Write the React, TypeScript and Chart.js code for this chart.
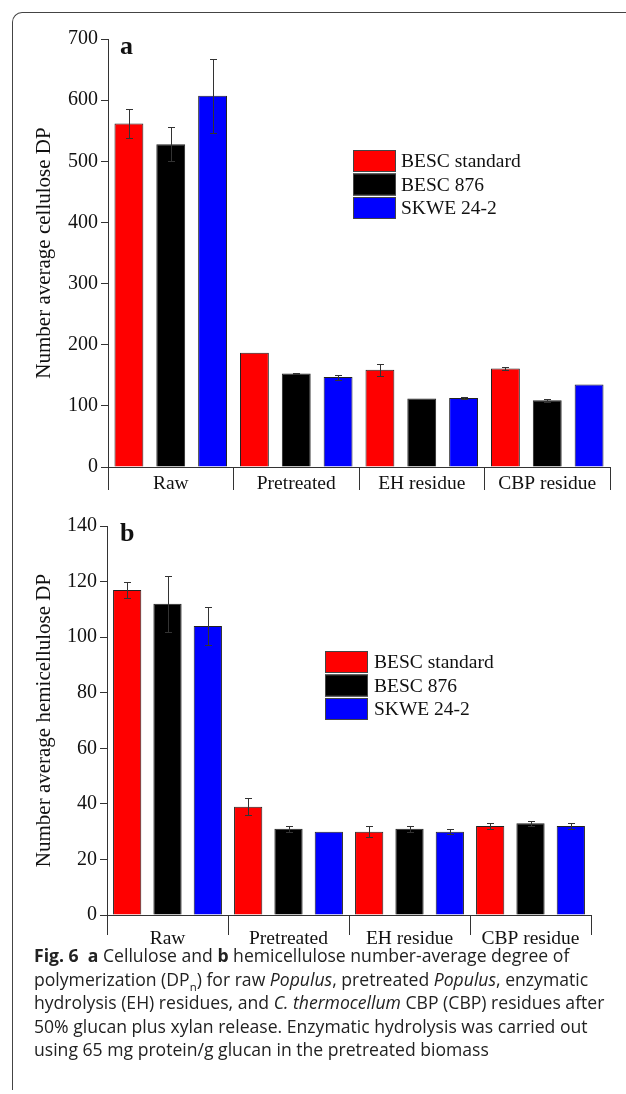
import React, { useEffect, useRef } from "react";
import { Chart, registerables } from "chart.js";

Chart.register(...registerables);

const SERIF = "'Liberation Serif', 'Times New Roman', serif";

// ---------- data ----------
const categories = ["Raw", "Pretreated", "EH residue", "CBP residue"];
const seriesNames = ["BESC standard", "BESC 876", "SKWE 24-2"];
const seriesColors = ["#ff0000", "#000000", "#0000ff"];

// (a) cellulose number-average DP
const celluloseStandard = [562, 187, 159, 161];
const cellulose876 = [528, 153, 112, 109];
const celluloseSkwe = [607, 147, 113, 135];
const celluloseStandardErr = [24, 0, 10, 3];
const cellulose876Err = [28, 1, 0, 2];
const celluloseSkweErr = [60, 4, 1, 0];
const celluloseAxis = { min: 0, max: 700, step: 100 };

// (b) hemicellulose number-average DP
const hemiStandard = [117, 39, 30, 32];
const hemi876 = [112, 31, 31, 33];
const hemiSkwe = [104, 30, 30, 32];
const hemiStandardErr = [3, 3, 2, 1];
const hemi876Err = [10, 1, 1, 1];
const hemiSkweErr = [7, 0, 1, 1];
const hemiAxis = { min: 0, max: 140, step: 20 };

// ---------- plugins ----------
const errorBarPlugin = {
  id: "errorBars",
  afterDatasetsDraw(chart: any, _args: any, opts: any) {
    const errs: number[][] = opts.errors || [];
    const ctx = chart.ctx;
    const ys = chart.scales.y;
    ctx.save();
    ctx.strokeStyle = opts.color || "#333";
    ctx.lineWidth = 1;
    chart.data.datasets.forEach((ds: any, i: number) => {
      const meta = chart.getDatasetMeta(i);
      meta.data.forEach((el: any, j: number) => {
        const e = (errs[i] && errs[i][j]) || 0;
        if (!e) return;
        const v = ds.data[j];
        const x = Math.round(el.x) + 0.5;
        const yt = Math.round(ys.getPixelForValue(v + e)) + 0.5;
        const yb = Math.round(ys.getPixelForValue(v - e)) + 0.5;
        const cap = opts.cap || 3.5;
        ctx.beginPath();
        ctx.moveTo(x, yt);
        ctx.lineTo(x, yb);
        ctx.moveTo(x - cap, yt);
        ctx.lineTo(x + cap, yt);
        ctx.moveTo(x - cap, yb);
        ctx.lineTo(x + cap, yb);
        ctx.stroke();
      });
    });
    ctx.restore();
  },
};

const boxLegendPlugin = {
  id: "boxLegend",
  afterDraw(chart: any, _args: any, opts: any) {
    const ctx = chart.ctx;
    ctx.save();
    chart.data.datasets.forEach((ds: any, i: number) => {
      const y = opts.y + i * opts.rowH;
      ctx.fillStyle = ds.backgroundColor;
      ctx.fillRect(opts.x, y, opts.boxW, opts.boxH);
      ctx.strokeStyle = "#444";
      ctx.lineWidth = 1;
      ctx.strokeRect(opts.x + 0.5, y + 0.5, opts.boxW - 1, opts.boxH - 1);
      ctx.fillStyle = "#111";
      ctx.font = `${opts.fontSize}px ${SERIF}`;
      ctx.textAlign = "left";
      ctx.textBaseline = "middle";
      ctx.fillText(ds.label, opts.textX, y + opts.boxH / 2 + 1);
    });
    ctx.restore();
  },
};

const panelLetterPlugin = {
  id: "panelLetter",
  afterDraw(chart: any, _args: any, opts: any) {
    const ctx = chart.ctx;
    ctx.save();
    ctx.fillStyle = "#111";
    ctx.font = `bold ${opts.size}px ${SERIF}`;
    ctx.textAlign = "left";
    ctx.textBaseline = "middle";
    ctx.fillText(opts.text, opts.x, opts.y);
    ctx.restore();
  },
};

type PanelProps = {
  top: number;
  height: number;
  values: number[][];
  errors: number[][];
  axis: { min: number; max: number; step: number };
  yTitle: string;
  letter: string;
  yAxisWidth: number;
  xAxisHeight: number;
  padTop: number;
  padRight: number;
  sepTick: number;
  labelPad: number;
  barPct: number;
  legend: { x: number; y: number; textX: number };
};

function Panel(p: PanelProps) {
  const ref = useRef<HTMLCanvasElement>(null);
  useEffect(() => {
    const chart = new Chart(ref.current as HTMLCanvasElement, {
      type: "bar",
      data: {
        labels: categories,
        datasets: seriesNames.map((name, i) => ({
          label: name,
          data: p.values[i],
          backgroundColor: seriesColors[i],
          borderColor: "#222",
          borderWidth: 1,
          categoryPercentage: 1.0,
          barPercentage: p.barPct,
        })),
      },
      options: {
        responsive: false,
        animation: false,
        devicePixelRatio: 1,
        layout: { padding: { top: p.padTop, right: p.padRight, left: 0, bottom: 0 } },
        plugins: {
          legend: { display: false },
          tooltip: { enabled: false },
          errorBars: { errors: p.errors, color: "#333", cap: 3.5 },
          boxLegend: {
            x: p.legend.x,
            y: p.legend.y,
            textX: p.legend.textX,
            boxW: 43,
            boxH: 22,
            rowH: 23.5,
            fontSize: 19.5,
          },
          panelLetter: { text: p.letter, x: 120, y: p.padTop + 8, size: 26 },
        } as any,
        scales: {
          x: {
            type: "category",
            ticks: {
              color: "#111",
              font: { family: SERIF, size: 19.5 },
              padding: p.labelPad,
              maxRotation: 0,
              autoSkip: false,
            },
            grid: {
              drawOnChartArea: false,
              offset: true,
              tickLength: p.sepTick,
              color: "#333",
              lineWidth: 1,
            },
            border: { color: "#333", width: 1 },
            afterFit: (s: any) => {
              s.height = p.xAxisHeight;
            },
          },
          y: {
            min: p.axis.min,
            max: p.axis.max,
            ticks: {
              stepSize: p.axis.step,
              color: "#111",
              font: { family: SERIF, size: 20 },
              padding: 3,
            },
            grid: {
              drawOnChartArea: false,
              tickLength: 7,
              color: "#333",
              lineWidth: 1,
            },
            border: { color: "#333", width: 1 },
            title: {
              display: true,
              text: p.yTitle,
              color: "#111",
              font: { family: SERIF, size: 21 },
              padding: { top: 32, bottom: 0 },
            },
            afterFit: (s: any) => {
              s.width = p.yAxisWidth;
            },
          },
        },
      },
      plugins: [errorBarPlugin, boxLegendPlugin, panelLetterPlugin],
    } as any);
    return () => chart.destroy();
  }, []);
  return (
    <div style={{ position: "absolute", left: 0, top: p.top, width: 626, height: p.height }}>
      <canvas ref={ref} width={626} height={p.height} style={{ display: "block" }} />
    </div>
  );
}

const captionStyle: React.CSSProperties = {
  position: "absolute",
  left: 34,
  top: 944,
  fontFamily: "'Open Sans', 'Noto Sans', sans-serif",
  fontSize: 17.6,
  lineHeight: "23.6px",
  color: "#222",
  whiteSpace: "nowrap",
  fontWeight: 400,
};

export default function App() {
  return (
    <div
      style={{
        position: "absolute",
        left: 0,
        top: 0,
        width: 626,
        height: 1094,
        background: "#fff",
        overflow: "hidden",
      }}
    >
      <div
        style={{
          position: "absolute",
          left: 12,
          top: 12,
          width: 640,
          height: 1078,
          borderTop: "1.5px solid #444",
          borderLeft: "1.5px solid #444",
          borderTopLeftRadius: 10,
          boxSizing: "border-box",
        }}
      />
      <Panel
        top={0}
        height={500}
        values={[celluloseStandard, cellulose876, celluloseSkwe]}
        errors={[celluloseStandardErr, cellulose876Err, celluloseSkweErr]}
        axis={celluloseAxis}
        yTitle="Number average cellulose DP"
        letter="a"
        yAxisWidth={108}
        xAxisHeight={33}
        padTop={39}
        padRight={16}
        sepTick={23}
        labelPad={-18}
        barPct={0.69}
        legend={{ x: 353, y: 150, textX: 401 }}
      />
      <Panel
        top={500}
        height={450}
        values={[hemiStandard, hemi876, hemiSkwe]}
        errors={[hemiStandardErr, hemi876Err, hemiSkweErr]}
        axis={hemiAxis}
        yTitle="Number average hemicellulose DP"
        letter="b"
        yAxisWidth={107}
        xAxisHeight={35}
        padTop={26}
        padRight={35}
        sepTick={20}
        labelPad={-8}
        barPct={0.7}
        legend={{ x: 325, y: 151, textX: 374 }}
      />
      <div style={captionStyle}>
        <div>
          <b>Fig. 6</b>&nbsp; <b>a</b> Cellulose and <b>b</b> hemicellulose number-average degree of
        </div>
        <div>
          polymerization (DP<sub style={{ fontSize: "0.65em", lineHeight: 0 }}>n</sub>) for raw <i>Populus</i>,
          pretreated <i>Populus</i>, enzymatic
        </div>
        <div>
          hydrolysis (EH) residues, and <i>C. thermocellum</i> CBP (CBP) residues after
        </div>
        <div>50% glucan plus xylan release. Enzymatic hydrolysis was carried out</div>
        <div>using 65 mg protein/g glucan in the pretreated biomass</div>
      </div>
    </div>
  );
}
